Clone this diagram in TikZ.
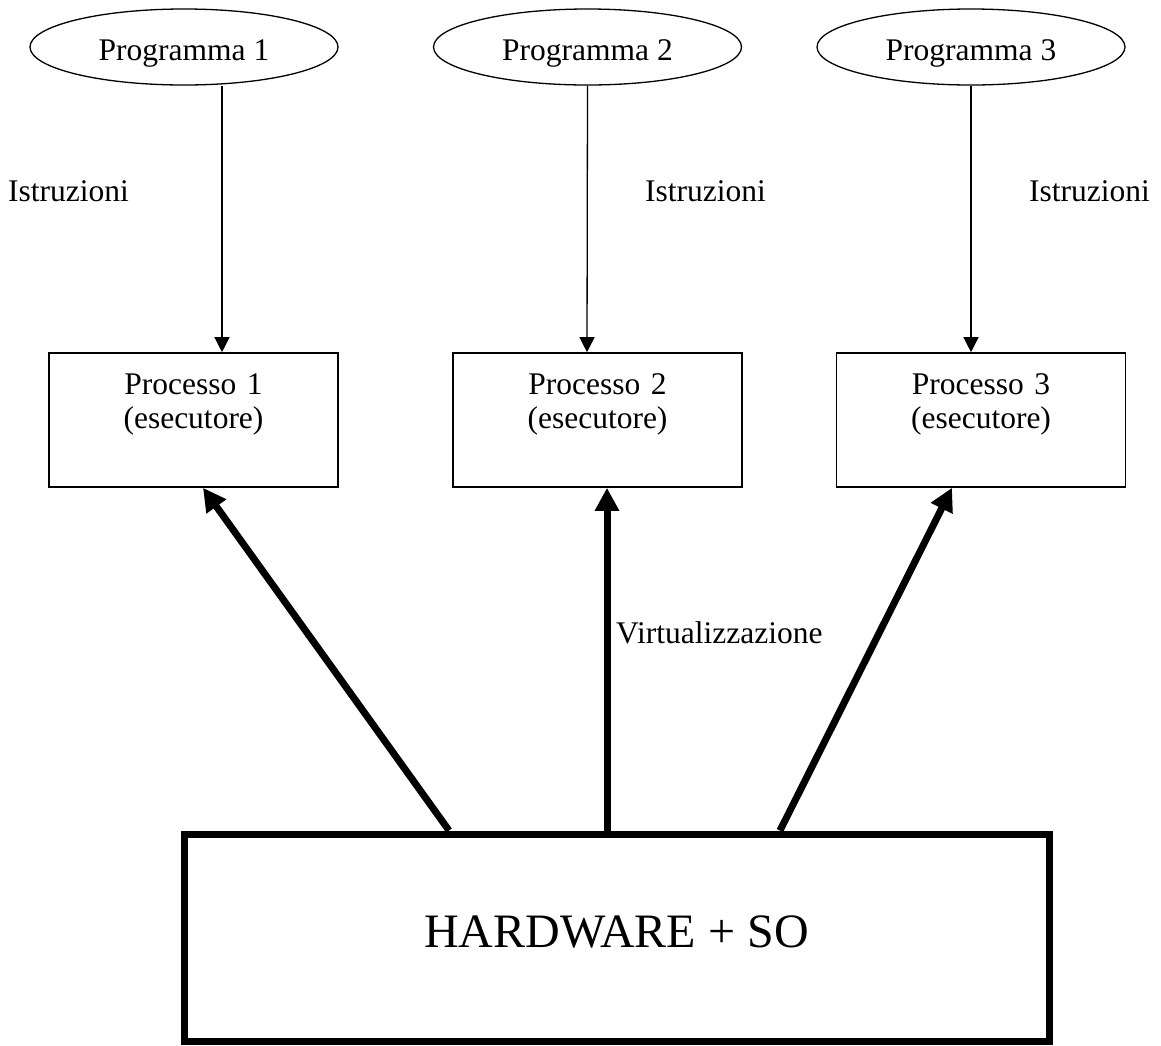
\documentclass[tikz,border=0pt]{standalone}
\usepackage{fontspec}
\setmainfont{Liberation Serif}
\usetikzlibrary{arrows.meta,shapes,positioning}

\begin{document}
\begin{tikzpicture}[x=1pt,y=-1pt,
    font=\fontsize{31.5}{34}\selectfont,
    prog/.style={draw,ellipse,line width=1.3pt,minimum width=308pt,minimum height=76pt,
                 inner sep=0pt,text height=26pt,text depth=0pt},
    proc/.style={draw,rectangle,line width=1.6pt,inner sep=0pt,text width=289pt,align=center,
                 text height=41pt,text depth=93pt},
    istr/.style={-{Triangle[length=15pt,width=15pt]},line width=1.3pt},
    virt/.style={-{Triangle[length=23pt,width=23pt]},line width=7pt},
    lbl/.style={anchor=base west,inner sep=0pt}]
           \useasboundingbox (0,0) rectangle (1161,1045);
           % programmi
           \node [prog] (prog1) at (184,47) {Programma 1};
           \node [prog] (prog2) at (587.5,47) {Programma 2};
           \node [prog] (prog3) at (971,47) {Programma 3};
           % processi
           \node [proc] (proc1) at (193.5,420) {Processo 1\\(esecutore)};
           \node [proc] (proc2) at (597.5,420) {Processo 2\\(esecutore)};
           \node [proc] (proc3) at (981,420) {Processo 3\\(esecutore)};
           \node [draw,line width=7pt,minimum width=865pt,minimum height=207pt,text depth=12pt,
                  font=\fontsize{48}{54}\selectfont] (hw) at (616.5,937.5) {HARDWARE + SO};
           % etichette
           \node [lbl] (istr1) at (8,201) {Istruzioni};
           \node [lbl] (istr2) at (645,201) {Istruzioni};
           \node [lbl] (istr3) at (1029,201) {Istruzioni};
           \node [lbl] (virtlbl) at (616,643) {Virtualizzazione};
           \draw [istr] ([xshift=38pt]prog1.south) -- ([xshift=28.5pt]proc1.north);
           \draw [istr] (prog2.south) -- ([xshift=-10.5pt]proc2.north);
           \draw [istr] (prog3.south) -- ([xshift=-10pt]proc3.north);
           \draw [virt] ([xshift=-167.5pt]hw.north) -- ([xshift=9.5pt]proc1.south);
           \draw [virt] ([xshift=-9.5pt]hw.north) -- ([xshift=9.5pt]proc2.south);
           \draw [virt] ([xshift=163.5pt]hw.north) -- ([xshift=-29pt]proc3.south);
      \end{tikzpicture}
\end{document}
